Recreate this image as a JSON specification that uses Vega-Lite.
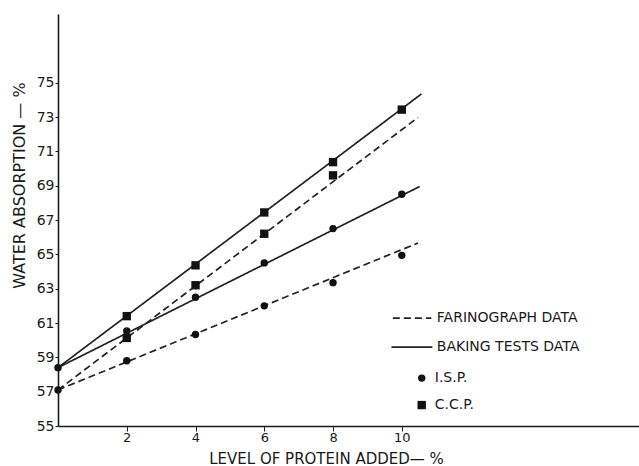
{
  "$schema": "https://vega.github.io/schema/vega-lite/v6.json",
  "width": 581,
  "height": 412,
  "autosize": {"type": "none"},
  "padding": {"left": 58, "top": 14, "right": 0, "bottom": 40},
  "background": "#ffffff",
  "config": {
    "view": {"stroke": null},
    "font": "DejaVu Sans",
    "axis": {"grid": false, "domainColor": "#1a1a1a", "domainWidth": 1.6, "tickColor": "#1a1a1a", "labelColor": "#1a1a1a", "titleColor": "#1a1a1a", "labelFont": "DejaVu Sans", "titleFont": "DejaVu Sans", "labelFontSize": 14, "titleFontSize": 16, "titleFontWeight": "normal"}
  },
  "datasets": {
    "fits": [
      {"series": "CCP baking", "method": "baking", "x": 0, "y": 58.4},
      {"series": "CCP baking", "method": "baking", "x": 10.57, "y": 74.34},
      {"series": "CCP farinograph", "method": "farinograph", "x": 0, "y": 57.1},
      {"series": "CCP farinograph", "method": "farinograph", "x": 10.47, "y": 72.97},
      {"series": "ISP baking", "method": "baking", "x": 0, "y": 58.4},
      {"series": "ISP baking", "method": "baking", "x": 10.52, "y": 68.95},
      {"series": "ISP farinograph", "method": "farinograph", "x": 0, "y": 57.1},
      {"series": "ISP farinograph", "method": "farinograph", "x": 10.47, "y": 65.66}
    ],
    "points": [
      {"protein": "ISP", "x": 0, "y": 58.4},
      {"protein": "ISP", "x": 0, "y": 57.1},
      {"protein": "CCP", "x": 2, "y": 61.4},
      {"protein": "CCP", "x": 4, "y": 64.36},
      {"protein": "CCP", "x": 6, "y": 67.44},
      {"protein": "CCP", "x": 8, "y": 70.37},
      {"protein": "CCP", "x": 10, "y": 73.43},
      {"protein": "CCP", "x": 2, "y": 60.13},
      {"protein": "CCP", "x": 4, "y": 63.2},
      {"protein": "CCP", "x": 6, "y": 66.2},
      {"protein": "CCP", "x": 8, "y": 69.6},
      {"protein": "ISP", "x": 2, "y": 60.54},
      {"protein": "ISP", "x": 4, "y": 62.5},
      {"protein": "ISP", "x": 6, "y": 64.5},
      {"protein": "ISP", "x": 8, "y": 66.5},
      {"protein": "ISP", "x": 10, "y": 68.5},
      {"protein": "ISP", "x": 2, "y": 58.8},
      {"protein": "ISP", "x": 4, "y": 60.33},
      {"protein": "ISP", "x": 6, "y": 62.0},
      {"protein": "ISP", "x": 8, "y": 63.35},
      {"protein": "ISP", "x": 10, "y": 64.94}
    ],
    "legendLines": [
      {"method": "farinograph", "x": 9.74, "x2": 10.86, "y": 61.28},
      {"method": "baking", "x": 9.7, "x2": 10.89, "y": 59.59}
    ],
    "legendPoints": [
      {"protein": "ISP", "x": 10.58, "y": 57.79},
      {"protein": "CCP", "x": 10.58, "y": 56.22}
    ],
    "legendText": [
      {"label": "FARINOGRAPH DATA", "x": 11.02, "y": 61.28},
      {"label": "BAKING TESTS DATA", "x": 11.02, "y": 59.59},
      {"label": "I.S.P.", "x": 10.96, "y": 57.79},
      {"label": "C.C.P.", "x": 10.96, "y": 56.22}
    ]
  },
  "layer": [
    {
      "data": {"name": "fits"},
      "mark": {"type": "line", "color": "#222222", "strokeWidth": 1.7},
      "encoding": {
        "x": {"field": "x", "type": "quantitative", "scale": {"domain": [0, 16.9], "nice": false, "zero": false},
          "axis": {"values": [2, 4, 6, 8, 10], "tickSize": 5, "labelPadding": 0, "labelFontSize": 13, "title": "LEVEL OF PROTEIN ADDED— %", "titleFontSize": 15, "titleX": 268, "titleY": 37, "titleBaseline": "alphabetic", "titleAnchor": null, "titleAlign": "center"}},
        "y": {"field": "y", "type": "quantitative", "scale": {"domain": [55, 79], "nice": false, "zero": false},
          "axis": {"values": [55, 57, 59, 61, 63, 65, 67, 69, 71, 73, 75], "tickSize": 3, "labelPadding": 1, "title": "WATER ABSORPTION — %", "titleAngle": 270, "titleX": -39, "titleY": 171, "titleAlign": "center", "titleBaseline": "middle", "titleAnchor": null}},
        "detail": {"field": "series"},
        "strokeDash": {"field": "method", "type": "nominal", "scale": {"domain": ["farinograph", "baking"], "range": [[7, 4], [1, 0]]}, "legend": null}
      }
    },
    {
      "data": {"name": "points"},
      "mark": {"type": "point", "filled": true, "opacity": 1, "color": "#111111"},
      "encoding": {
        "x": {"field": "x", "type": "quantitative"},
        "y": {"field": "y", "type": "quantitative"},
        "shape": {"field": "protein", "type": "nominal", "scale": {"domain": ["ISP", "CCP"], "range": ["circle", "square"]}, "legend": null},
        "size": {"field": "protein", "type": "nominal", "scale": {"domain": ["ISP", "CCP"], "range": [55, 70]}, "legend": null}
      }
    },
    {
      "data": {"name": "legendLines"},
      "mark": {"type": "rule", "color": "#222222", "strokeWidth": 1.7},
      "encoding": {
        "x": {"field": "x", "type": "quantitative"},
        "x2": {"field": "x2"},
        "y": {"field": "y", "type": "quantitative"},
        "strokeDash": {"field": "method", "type": "nominal", "scale": {"domain": ["farinograph", "baking"], "range": [[7, 4], [1, 0]]}, "legend": null}
      }
    },
    {
      "data": {"name": "legendPoints"},
      "mark": {"type": "point", "filled": true, "opacity": 1, "color": "#111111"},
      "encoding": {
        "x": {"field": "x", "type": "quantitative"},
        "y": {"field": "y", "type": "quantitative"},
        "shape": {"field": "protein", "type": "nominal", "scale": {"domain": ["ISP", "CCP"], "range": ["circle", "square"]}, "legend": null},
        "size": {"field": "protein", "type": "nominal", "scale": {"domain": ["ISP", "CCP"], "range": [55, 70]}, "legend": null}
      }
    },
    {
      "data": {"name": "legendText"},
      "mark": {"type": "text", "align": "left", "baseline": "middle", "fontSize": 14, "font": "DejaVu Sans", "color": "#1a1a1a"},
      "encoding": {
        "x": {"field": "x", "type": "quantitative"},
        "y": {"field": "y", "type": "quantitative"},
        "text": {"field": "label"}
      }
    }
  ]
}
